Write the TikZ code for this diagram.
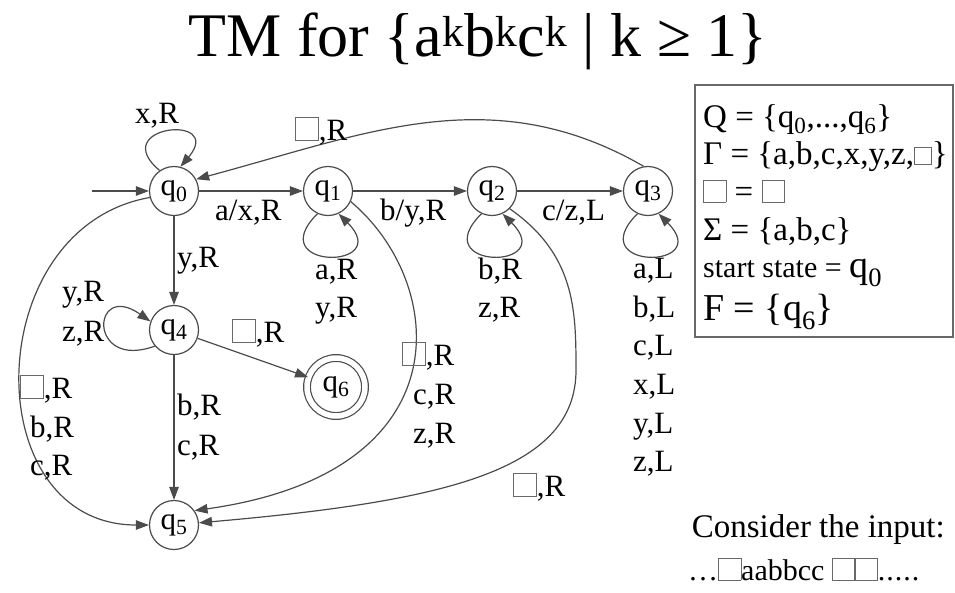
\documentclass[tikz,border=0pt]{standalone}
\usepackage{fontspec}
\setmainfont{Liberation Serif}
\usetikzlibrary{arrows.meta}

\definecolor{edgegray}{RGB}{75,75,75}
\definecolor{boxgray}{RGB}{105,105,105}

% blank tape symbol
\newcommand{\blnk}[1][0.72em]{{\fboxsep=0pt\fboxrule=0.7pt\color{boxgray}\fbox{\rule{0pt}{#1}\hspace{#1}}}}
\newcommand{\qs}[1]{q\textsubscript{#1}}

\begin{document}
\begin{tikzpicture}[x=1pt, y=-1pt,
	state/.style={circle, draw=edgegray, line width=1.2pt, minimum size=49pt, inner sep=0pt, font=\fontsize{31}{31}\selectfont},
	accept/.style={state, minimum size=58pt, double=white, double distance=5.5pt},
	trans/.style={draw=edgegray, line width=1.2pt, -{Triangle[length=13pt,width=9.5pt]}},
	lbl/.style={font=\fontsize{31}{31}\selectfont, anchor=base west, inner sep=0pt}]
	\useasboundingbox (0,0) rectangle (955,592);

	% title
	\node[font=\fontsize{62}{62}\selectfont, anchor=base] (title) at (478,56)
		{TM for \{a\textsuperscript{k}b\textsuperscript{k}c\textsuperscript{k} | k ≥ 1\}};

	% states
	\node[state] (q0) at (174,191) {\qs{0}};
	\node[state] (q1) at (328,191) {\qs{1}};
	\node[state] (q2) at (492,191) {\qs{2}};
	\node[state] (q3) at (648,191) {\qs{3}};
	\node[state] (q4) at (174,330) {\qs{4}};
	\node[accept] (q6) at (336,387) {\qs{6}};
	\node[state] (q5) at (174,525) {\qs{5}};
	\coordinate (start) at (92,191);

	% straight moves
	\draw[trans] (start) -- (q0);
	\draw[trans] (q0) -- (q1);
	\draw[trans] (q1) -- (q2);
	\draw[trans] (q2) -- (q3);
	\draw[trans] (q0) -- (q4);
	\draw[trans] (q4) -- (q5);
	\draw[trans] (q4) -- (q6);

	% loops
	\draw[trans] (q0.125) .. controls +(140:70pt) and +(50:70pt) .. (q0.75);
	\draw[trans] (q1.-115) .. controls +(-135:80pt) and +(-45:80pt) .. (q1.-65);
	\draw[trans] (q2.-115) .. controls +(-135:80pt) and +(-45:80pt) .. (q2.-65);
	\draw[trans] (q3.-115) .. controls +(-135:80pt) and +(-45:80pt) .. (q3.-65);
	\draw[trans] (q4.-140) .. controls +(-160:72pt) and +(145:72pt) .. (q4.160);

	% long curves
	\draw[trans] (q3.100) to[out=150, in=15] (q0.28);
	\draw[trans] (q0.195) to[out=190, in=180, looseness=1.35] (q5);
	\draw[trans] (q1.-25) .. controls +(-40:125pt) and +(8:275pt) .. (q5.35);
	\draw[trans] (q2.-45) .. controls +(-35:80pt) and +(90:60pt) .. (576,370)
		.. controls +(-90:100pt) and +(5:250pt) .. (q5.5);

	% labels
	\node[lbl] (lx) at (135,123) {x,R};
	\node[lbl] (lback) at (295,140) {\blnk,R};
	\node[lbl] (lax) at (215,220) {a/x,R};
	\node[lbl] (lby) at (380,220) {b/y,R};
	\node[lbl] (lcz) at (542,220) {c/z,L};
	\node[lbl] (ly) at (177,267) {y,R};
	\node[lbl] (l1a) at (315,279) {a,R};
	\node[lbl] (l1y) at (315,317) {y,R};
	\node[lbl] (l2b) at (478,279) {b,R};
	\node[lbl] (l2z) at (478,317) {z,R};
	\node[lbl] (l3a) at (633,278) {a,L};
	\node[lbl] (l3b) at (633,317) {b,L};
	\node[lbl] (l3c) at (633,355) {c,L};
	\node[lbl] (l3x) at (633,394) {x,L};
	\node[lbl] (l3y) at (633,433) {y,L};
	\node[lbl] (l3z) at (633,471) {z,L};
	\node[lbl] (l4y) at (62,301) {y,R};
	\node[lbl] (l4z) at (62,341) {z,R};
	\node[lbl] (l46) at (232,342) {\blnk,R};
	\node[lbl] (l45b) at (177,415) {b,R};
	\node[lbl] (l45c) at (177,455) {c,R};
	\node[lbl] (l05a) at (20,398) {\blnk,R};
	\node[lbl] (l05b) at (30,437) {b,R};
	\node[lbl] (l05c) at (30,475) {c,R};
	\node[lbl] (l15a) at (402,365) {\blnk,R};
	\node[lbl] (l15c) at (413,404) {c,R};
	\node[lbl] (l15z) at (413,443) {z,R};
	\node[lbl] (l25) at (513,496) {\blnk,R};

	% definitions
	\draw[draw=boxgray, line width=1.2pt] (695,85) rectangle (953,337);
	\node[lbl, font=\fontsize{33}{33}\selectfont] (dQ) at (703,127) {Q = \{\qs{0},...,\qs{6}\}};
	\node[lbl, font=\fontsize{33}{33}\selectfont] (dG) at (703,164) {Γ = \{a,b,c,x,y,z,\blnk[0.5em]\}};
	\node[lbl, font=\fontsize{33}{33}\selectfont] (dB) at (703,202) {\blnk[0.66em] = {\color{boxgray!60}\blnk[0.66em]}};
	\node[lbl, font=\fontsize{33}{33}\selectfont] (dS) at (703,240) {Σ = \{a,b,c\}};
	\node[lbl, font=\fontsize{30}{30}\selectfont] (dst) at (703,277) {start state = {\fontsize{38}{38}\selectfont\qs{0}}};
	\node[lbl, font=\fontsize{38}{38}\selectfont] (dF) at (703,320) {F = \{\qs{6}\}};

	% input
	\node[font=\fontsize{33}{33}\selectfont, anchor=base east, inner sep=0pt] (cons) at (945,537) {Consider the input:};
	\node[lbl, font=\fontsize{30}{30}\selectfont] (tape) at (688,580) {…\blnk aabbcc \blnk\blnk.\kern1pt.\kern1pt.\kern1pt.\kern1pt.};
\end{tikzpicture}
\end{document}
